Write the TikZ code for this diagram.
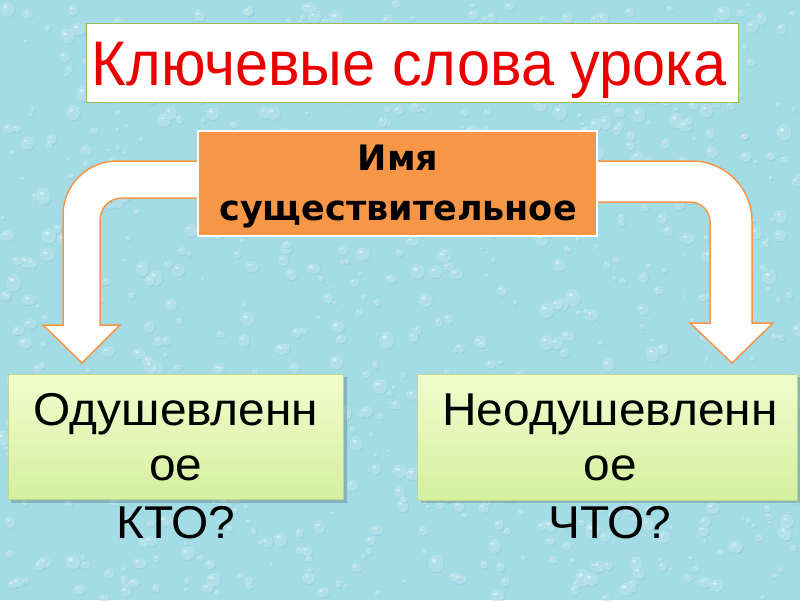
\documentclass[tikz,border=0pt]{standalone}
\usepackage{fontspec}
\setmainfont{Liberation Sans}
\newfontfamily\boldsub{DejaVu Sans}
\newfontfamily\titlefont[FakeStretch=0.943]{Liberation Sans}
\newfontfamily\greenfont[FakeStretch=1.04]{Liberation Sans}
\definecolor{bgblue}{RGB}{164,220,230}
\definecolor{dropl}{RGB}{208,240,246}
\definecolor{dropd}{RGB}{118,188,204}
\definecolor{orng}{RGB}{247,150,70}
\definecolor{titleborder}{RGB}{155,187,89}
\definecolor{greentop}{RGB}{242,252,205}
\definecolor{greenbot}{RGB}{212,240,160}
\definecolor{greenborder}{RGB}{190,215,140}
\definecolor{titlered}{RGB}{235,0,0}
\tikzset{
  titlebox/.style={draw=titleborder, line width=1.2pt, fill=white},
  subbox/.style={draw=white, line width=1.5pt, fill=orng},
  greenbox/.style={draw=greenborder, line width=0.8pt, top color=greentop, bottom color=greenbot},
  bentarrow/.style={draw=orng, line width=1.5pt, fill=white, line join=miter},
  boxtext/.style={font=\greenfont\fontsize{46}{58}\selectfont, align=center, text=black, inner sep=0pt},
  subtext/.style={font=\boldsub\bfseries\fontsize{35}{50}\selectfont, inner sep=0pt},
}
\begin{document}
\begin{tikzpicture}[x=1pt, y=-1pt]
\useasboundingbox (0,0) rectangle (800,600);
% background
\fill[bgblue] (0,0) rectangle (800,600);
\pgfmathsetseed{12}
\foreach \i in {1,...,900}{
  \pgfmathsetmacro{\px}{rnd*800}
  \pgfmathsetmacro{\py}{rnd*600}
  \pgfmathsetmacro{\rx}{1.5+rnd*6}
  \pgfmathsetmacro{\ry}{\rx*(0.7+rnd*0.5)}
  \fill[dropd, opacity=0.3] (\px+0.8,\py+1) ellipse [x radius=\rx, y radius=\ry];
  \fill[dropl, opacity=0.45] (\px,\py) ellipse [x radius=\rx, y radius=\ry];
  \fill[white, opacity=0.45] (\px-0.3*\rx,\py-0.35*\ry) ellipse [x radius=0.3*\rx, y radius=0.22*\ry];
}
% title
\node[titlebox, minimum width=652, minimum height=79, anchor=north west, inner sep=0pt] (title) at (86,23) {};
\node[text=titlered, font=\titlefont\fontsize{63}{70}\selectfont, anchor=base, inner sep=0pt] (titletext) at (409,85) {Ключевые слова урока};
% arrows (drawn under the central box)
\coordinate (ltip) at (82,363);
\coordinate (rtip) at (732,363);
\draw[bentarrow] (200,161) -- (117,161) .. controls (87.2,161) and (63,185.2) .. (63,215) -- (63,325) -- (43,325) -- (ltip) -- (120,325) -- (100,325) -- (100,220) .. controls (100,207.9) and (109.9,198) .. (122,198) -- (200,198) -- cycle;
\draw[bentarrow] (590,161) -- (692,161) .. controls (725.1,161) and (752,187.9) .. (752,221) -- (752,323) -- (773,323) -- (rtip) -- (690,323) -- (710,323) -- (710,222) .. controls (710,211) and (701,202) .. (690,202) -- (590,202) -- cycle;
% central box
\node[subbox, minimum width=399, minimum height=105, anchor=north west, inner sep=0pt] (sub) at (197,130) {};
\node[subtext, anchor=base] (subl1) at (398,170) {Имя};
\node[subtext, anchor=base] (subl2) at (398,220) {существительное};
% green boxes with shadows
\fill[black, opacity=0.18] (11,377) rectangle (347,503);
\node[greenbox, minimum width=335, minimum height=125, anchor=north west, inner sep=0pt] (anim) at (8,374) {};
\fill[black, opacity=0.18] (421,377) rectangle (800,503);
\node[greenbox, minimum width=380, minimum height=126, anchor=north west, inner sep=0pt] (inanim) at (417,374) {};
\node[boxtext, anchor=base] (a1) at (176,425) {Одушевленн};
\node[boxtext, anchor=base] (a2) at (176,480) {ое};
\node[boxtext, anchor=base] (a3) at (176,538) {КТО?};
\node[boxtext, anchor=base] (b1) at (610,425) {Неодушевленн};
\node[boxtext, anchor=base] (b2) at (610,480) {ое};
\node[boxtext, anchor=base] (b3) at (610,538) {ЧТО?};
\end{tikzpicture}
\end{document}
